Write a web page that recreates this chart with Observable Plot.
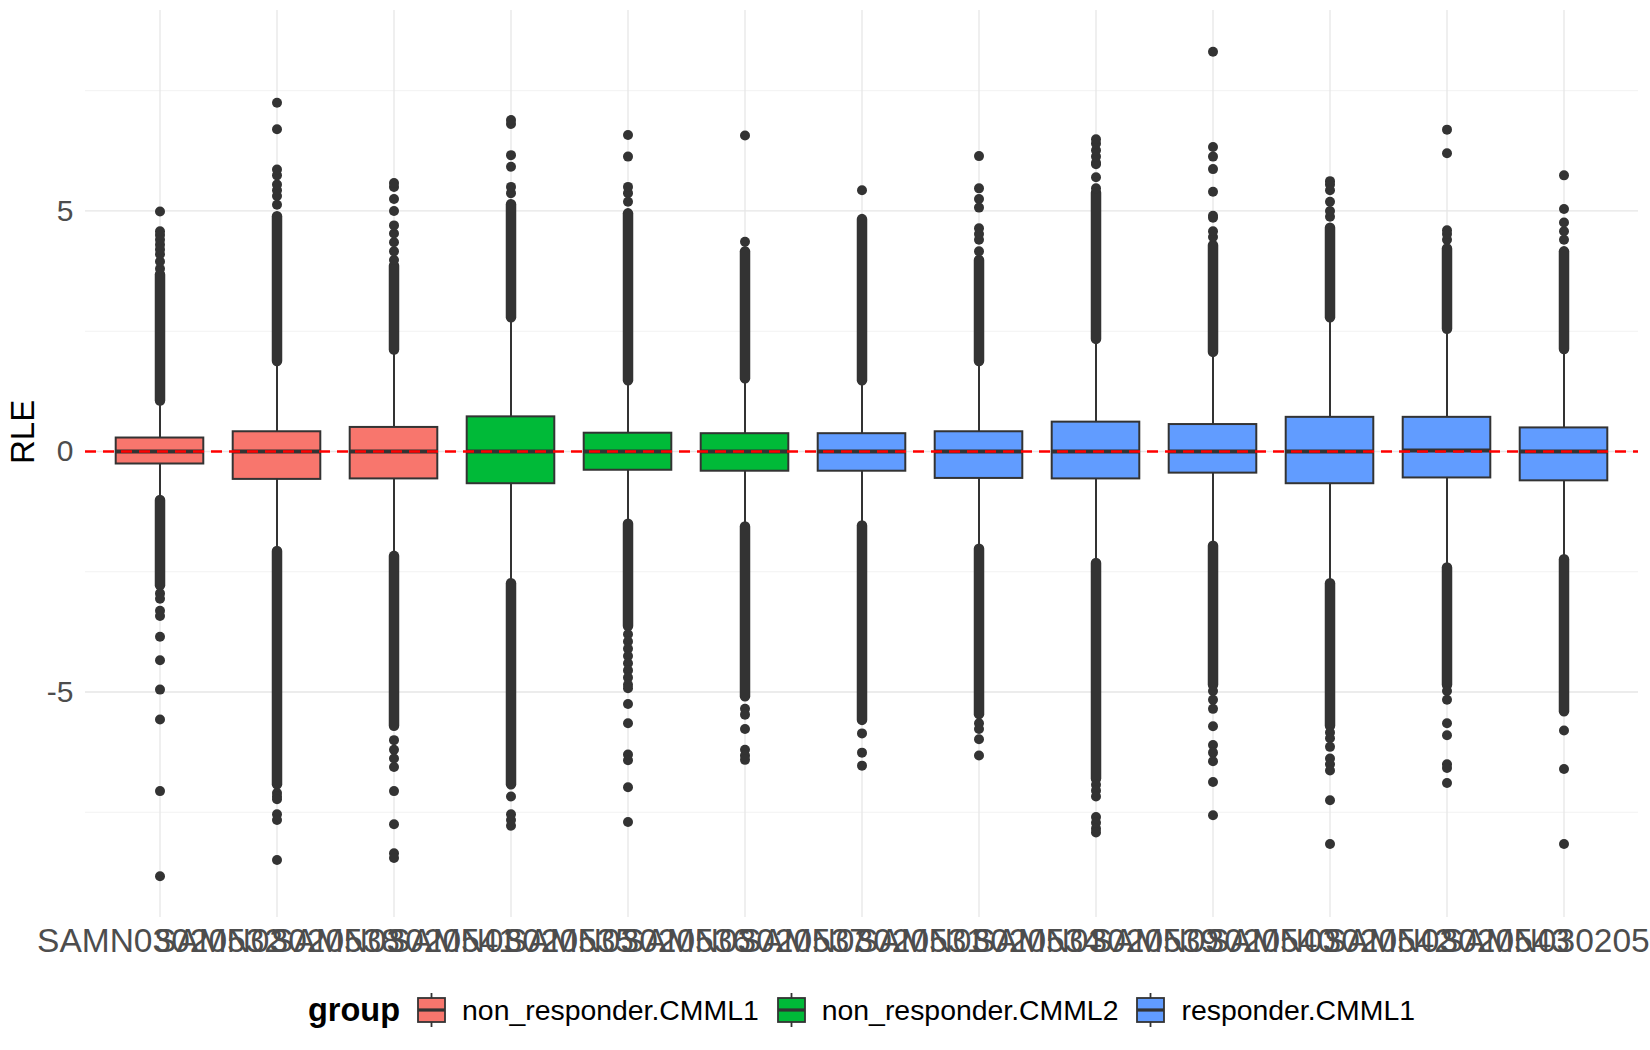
<!DOCTYPE html>
<html>
<head>
<meta charset="utf-8">
<script src="https://cdn.jsdelivr.net/npm/d3@7"></script>
<script src="https://cdn.jsdelivr.net/npm/@observablehq/plot@0.6"></script>
<style>
  html, body { margin: 0; padding: 0; background: white; }
  #wrap { position: relative; width: 1650px; height: 1050px; font-family: "Liberation Sans", Arial, sans-serif; }
  #legend { position: absolute; top: 990px; left: 85px; width: 1553px; height: 40px;
            display: flex; justify-content: center; align-items: center; color: #000; }
  #legend .title { font-weight: bold; font-size: 32.5px; margin-right: 17px; }
  #legend .lab { font-size: 28.4px; margin-left: 16px; margin-right: 18px; }
  #legend svg { display: block; }
</style>
</head>
<body>
<div id="wrap">
  <div id="chart"></div>
  <div id="legend"></div>
</div>
<script>
// ---------- data ----------
const samples = ["SAMN03020532","SAMN03020538","SAMN03020541","SAMN03020535","SAMN03020536","SAMN03020537",
                 "SAMN03020531","SAMN03020534","SAMN03020539","SAMN03020540","SAMN03020542","SAMN03020543","SAMN03020533"];
const groupNames = ["non_responder.CMML1", "non_responder.CMML2", "responder.CMML1"];
const groupColors = ["#F8766D", "#00BA38", "#619CFF"];
const sampleGroup = ["non_responder.CMML1","non_responder.CMML1","non_responder.CMML1",
                     "non_responder.CMML2","non_responder.CMML2","non_responder.CMML2",
                     "responder.CMML1","responder.CMML1","responder.CMML1","responder.CMML1",
                     "responder.CMML1","responder.CMML1","responder.CMML1"];

const q1          = [-0.26, -0.58, -0.57, -0.67, -0.39, -0.41, -0.41, -0.56, -0.57, -0.45, -0.67, -0.55, -0.61];
const medians     = [ 0.00,  0.00,  0.00,  0.00,  0.00,  0.00,  0.00,  0.00,  0.00,  0.00,  0.00,  0.02,  0.00];
const q3          = [ 0.28,  0.41,  0.50,  0.72,  0.38,  0.37,  0.37,  0.41,  0.61,  0.56,  0.71,  0.71,  0.49];
const whiskerLow  = [-0.96, -2.02, -2.12, -2.69, -1.45, -1.51, -1.49, -1.97, -2.27, -1.91, -2.69, -2.36, -2.19];
const whiskerHigh = [ 0.99,  1.81,  2.05,  2.72,  1.41,  1.45,  1.41,  1.81,  2.27,  2.00,  2.72,  2.48,  2.06];

// ranges where the outlier points are so dense that they merge into a column
const denseUpperFrom = [ 1.05,  1.87,  2.11,  2.78,  1.47,  1.51,  1.47,  1.87,  2.33,  2.06,  2.78,  2.54,  2.12];
const denseUpperTo   = [ 3.67,  4.88,  3.85,  5.13,  4.94,  4.15,  4.82,  3.97,  5.37,  4.28,  4.64,  4.21,  4.15];
const denseLowerFrom = [-1.02, -2.08, -2.18, -2.75, -1.51, -1.57, -1.55, -2.03, -2.33, -1.97, -2.75, -2.42, -2.25];
const denseLowerTo   = [-2.79, -6.93, -5.71, -6.93, -3.64, -5.10, -5.59, -5.47, -6.81, -4.86, -5.71, -4.86, -5.41];

// individually visible outliers
const sparseOutliers = [
  [3.80, 3.95, 4.10, 4.20, 4.30, 4.40, 4.50, 4.58, 4.99,
   -2.95, -3.06, -3.31, -3.42, -3.85, -4.34, -4.95, -5.57, -7.06, -8.83],
  [5.13, 5.31, 5.43, 5.55, 5.74, 5.86, 6.70, 7.25,
   -7.10, -7.17, -7.23, -7.54, -7.66, -8.49],
  [3.98, 4.16, 4.35, 4.53, 4.70, 5.00, 5.25, 5.50, 5.58,
   -6.00, -6.20, -6.38, -6.56, -7.06, -7.75, -8.35, -8.45],
  [5.37, 5.50, 5.92, 6.16, 6.81, 6.89,
   -7.17, -7.54, -7.66, -7.78],
  [5.19, 5.37, 5.50, 6.13, 6.58,
   -3.80, -3.95, -4.10, -4.25, -4.40, -4.55, -4.70, -4.85, -4.92, -5.25, -5.65, -6.30, -6.42, -6.98, -7.70],
  [4.36, 6.57,
   -5.35, -5.47, -5.77, -6.20, -6.32, -6.41],
  [5.43,
   -5.86, -6.26, -6.53],
  [4.16, 4.40, 4.52, 4.64, 5.07, 5.25, 5.47, 6.14,
   -5.65, -5.77, -5.98, -6.32],
  [5.47, 5.70, 5.97, 6.00, 6.13, 6.26, 6.40, 6.49,
   -6.93, -7.05, -7.17, -7.60, -7.72, -7.84, -7.92],
  [4.46, 4.58, 4.86, 4.90, 5.40, 5.87, 6.13, 6.33, 8.31,
   -4.98, -5.16, -5.35, -5.71, -6.10, -6.26, -6.44, -6.87, -7.56],
  [4.88, 5.00, 5.19, 5.43, 5.55, 5.62,
   -5.84, -5.96, -6.14, -6.38, -6.50, -6.63, -7.25, -8.16],
  [4.40, 4.52, 4.60, 6.20, 6.69,
   -4.98, -5.16, -5.65, -5.90, -6.50, -6.58, -6.89],
  [4.40, 4.58, 4.76, 5.04, 5.74,
   -5.80, -6.60, -8.16]
];

const majorTicks = [-5, 0, 5];
const minorTicks = [-7.5, -2.5, 2.5, 7.5];
const yLabel = "RLE";
const legendTitle = "group";

// ---------- tables built from the arrays ----------
const rows = samples.map((s, i) => ({sample: s, group: sampleGroup[i], q1: q1[i], med: medians[i], q3: q3[i], lo: whiskerLow[i], hi: whiskerHigh[i]}));
const dense = samples.flatMap((s, i) => [
  {sample: s, y1: denseUpperFrom[i], y2: denseUpperTo[i]},
  {sample: s, y1: denseLowerFrom[i], y2: denseLowerTo[i]}
]);
const pts = samples.flatMap((s, i) => sparseOutliers[i].map(v => ({sample: s, v})));

const allVals = [...denseUpperTo, ...denseLowerTo, ...sparseOutliers.flat()];
const [vmin, vmax] = d3.extent(allVals);
const pad = (vmax - vmin) * 0.05;

const W = 1650, H = 975, ML = 85, MR = 12, MT = 10, MB = 58;
const step = (W - ML - MR) / (samples.length + 0.2);
const inset = step * 0.125;
const font = "'Liberation Sans', Arial, sans-serif";

const chart = Plot.plot({
  width: W, height: H,
  marginLeft: ML, marginRight: MR, marginTop: MT, marginBottom: MB,
  style: {fontFamily: font, background: "white", overflow: "hidden"},
  x: {domain: samples, paddingInner: 0, paddingOuter: 0.1, axis: null},
  y: {domain: [vmin - pad, vmax + pad], axis: null},
  color: {domain: groupNames, range: groupColors},
  marks: [
    Plot.ruleY(minorTicks, {stroke: "#F2F2F2", strokeWidth: 1}),
    Plot.ruleY(majorTicks, {stroke: "#E6E6E6", strokeWidth: 1.3}),
    Plot.ruleX(samples, {x: d => d, stroke: "#E6E6E6", strokeWidth: 1.3}),
    Plot.ruleX(rows, {x: "sample", y1: "lo", y2: "hi", stroke: "#333333", strokeWidth: 2}),
    Plot.barY(rows, {x: "sample", y1: "q1", y2: "q3", fill: "group", stroke: "#333333", strokeWidth: 2, insetLeft: inset, insetRight: inset}),
    Plot.tickY(rows, {x: "sample", y: "med", stroke: "#333333", strokeWidth: 4, insetLeft: inset, insetRight: inset}),
    Plot.ruleX(dense, {x: "sample", y1: "y1", y2: "y2", stroke: "#333333", strokeWidth: 10.5, strokeLinecap: "round"}),
    Plot.dot(pts, {x: "sample", y: "v", r: 5, fill: "#333333", stroke: null}),
    Plot.ruleY([0], {stroke: "red", strokeWidth: 2.3, strokeDasharray: "11,7"}),
    Plot.axisY({ticks: majorTicks, tickSize: 0, tickPadding: 12, fontSize: 30, color: "#4D4D4D", tickFormat: d => String(d), label: null}),
    Plot.axisX({tickSize: 0, tickPadding: 11, fontSize: 33.5, color: "#4D4D4D", label: null}),
    Plot.text([yLabel], {text: d => d, frameAnchor: "left", dx: -62, rotate: -90, fontSize: 33, fill: "black"})
  ]
});
document.getElementById("chart").appendChild(chart);

// ---------- legend ----------
const legend = document.getElementById("legend");
const t = document.createElement("span");
t.className = "title";
t.textContent = legendTitle;
legend.appendChild(t);
groupNames.forEach((g, i) => {
  const ns = "http://www.w3.org/2000/svg";
  const svg = document.createElementNS(ns, "svg");
  svg.setAttribute("width", 29); svg.setAttribute("height", 34);
  const l = document.createElementNS(ns, "line");
  l.setAttribute("x1", 14.5); l.setAttribute("x2", 14.5); l.setAttribute("y1", 0); l.setAttribute("y2", 34);
  l.setAttribute("stroke", "#333333"); l.setAttribute("stroke-width", 1.8);
  const r = document.createElementNS(ns, "rect");
  r.setAttribute("x", 1); r.setAttribute("y", 5); r.setAttribute("width", 27); r.setAttribute("height", 24);
  r.setAttribute("fill", groupColors[i]); r.setAttribute("stroke", "#333333"); r.setAttribute("stroke-width", 1.8);
  const m = document.createElementNS(ns, "line");
  m.setAttribute("x1", 1); m.setAttribute("x2", 28); m.setAttribute("y1", 17); m.setAttribute("y2", 17);
  m.setAttribute("stroke", "#333333"); m.setAttribute("stroke-width", 3.2);
  svg.appendChild(l); svg.appendChild(r); svg.appendChild(m);
  legend.appendChild(svg);
  const lab = document.createElement("span");
  lab.className = "lab";
  if (i === groupNames.length - 1) lab.style.marginRight = "0";
  lab.textContent = g;
  legend.appendChild(lab);
});
</script>
</body>
</html>
